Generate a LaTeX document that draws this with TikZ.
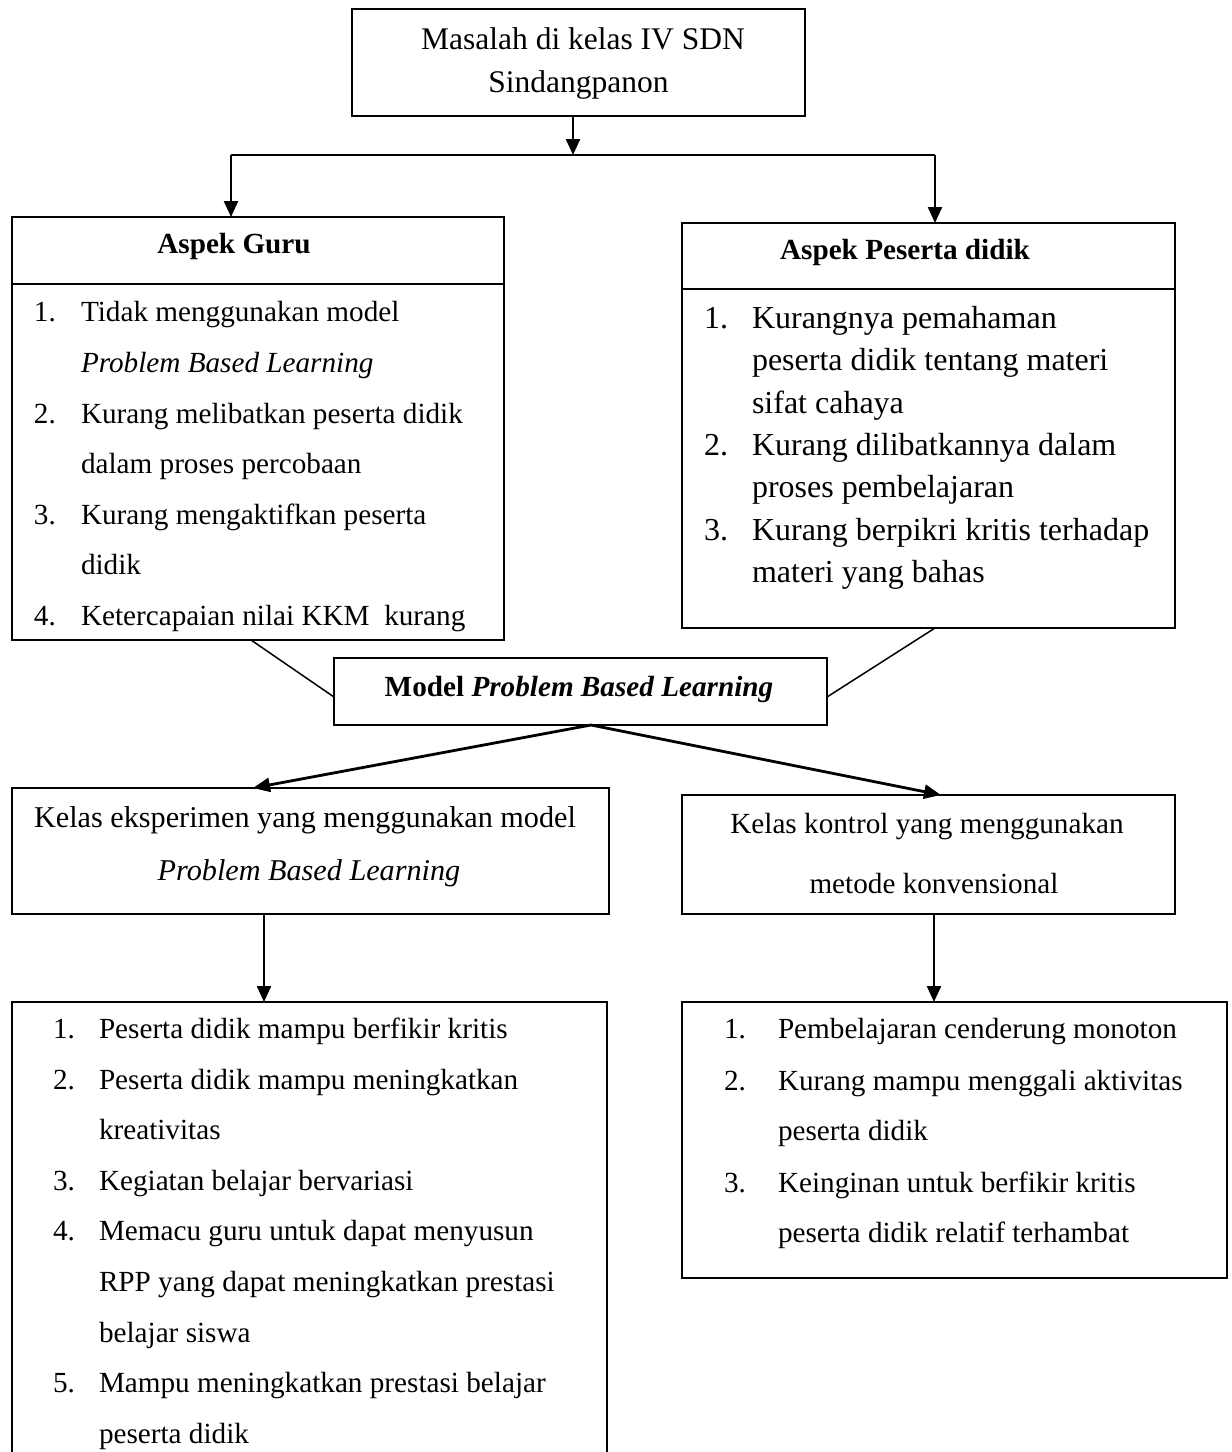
\documentclass[tikz,border=0pt]{standalone}
\usepackage{fontspec}
\setmainfont{Liberation Serif}
\usetikzlibrary{arrows.meta,calc}
\tikzset{
  box/.style={draw, line width=2.1pt, inner sep=0pt, outer sep=0pt, anchor=north west},
  ghost/.style={inner sep=0pt, outer sep=0pt, anchor=north west},
  lbl/.style={inner sep=0pt, outer sep=0pt},
  arr/.style={line width=2.3pt, -{Triangle[length=16pt,width=14pt]}},
  arrB/.style={line width=2.8pt, -{Triangle[length=17pt,width=14pt]}},
  plain/.style={line width=2.3pt},
  thinl/.style={line width=1.5pt},
  fA/.style={font=\fontsize{29.2}{35}\selectfont},
  fB/.style={font=\fontsize{32}{38}\selectfont},
  fT/.style={font=\fontsize{31.5}{38}\selectfont},
  fE/.style={font=\fontsize{30.2}{36}\selectfont},
}
\begin{document}
\begin{tikzpicture}[x=1pt,y=-1pt]
\useasboundingbox (0,0) rectangle (1232,1452);

% boxes
\node[box, minimum width=453pt, minimum height=107pt] (top) at (352,9) {};
\node[box, minimum width=492pt, minimum height=423pt] (guru) at (12,217) {};
\node[box, minimum width=493pt, minimum height=405pt] (siswa) at (682,223) {};
\node[box, minimum width=493pt, minimum height=67pt] (model) at (334,658) {};
\node[box, minimum width=597pt, minimum height=126pt] (eks) at (12,788) {};
\node[box, minimum width=493pt, minimum height=119pt] (kon) at (682,795) {};
\node[ghost, minimum width=595pt, minimum height=470pt] (hasilA) at (12,1002) {};
\node[box, minimum width=545pt, minimum height=276pt] (hasilB) at (682,1002) {};
\draw[line width=2.1pt] (hasilA.south west) -- (hasilA.north west) -- (hasilA.north east) -- (hasilA.south east);

% header dividers
\draw[line width=2.1pt] ($(guru.north west)+(0,67)$) -- ($(guru.north east)+(0,67)$);
\draw[line width=2.1pt] ($(siswa.north west)+(0,66)$) -- ($(siswa.north east)+(0,66)$);

% texts
\node[lbl, fT, anchor=base] (t1) at (583,49) {Masalah di kelas IV SDN};
\node[lbl, fT, anchor=base] (t2) at (578.5,92) {Sindangpanon};
\node[lbl, fA, anchor=base] (hg) at (234,253) {\textbf{Aspek Guru}};
\node[lbl, fA, anchor=base] (hs) at (905,259) {\textbf{Aspek Peserta didik}};
\node[lbl, fA, anchor=base] (mt) at (579,696) {\textbf{Model \textit{Problem Based Learning}}};
\node[lbl, fE, anchor=base] (e1) at (305,827) {Kelas eksperimen yang menggunakan model};
\node[lbl, fE, anchor=base] (e2) at (309,880) {\textit{Problem Based Learning}};
\node[lbl, fA, anchor=base] (k1) at (927,833) {Kelas kontrol yang menggunakan};
\node[lbl, fA, anchor=base] (k2) at (934,893) {metode konvensional};

% lists
\foreach \yy/\nn/\txt [count=\i] in {
  321/1./Tidak menggunakan model,
  372//\textit{Problem Based Learning},
  423/2./Kurang melibatkan peserta didik,
  473//dalam proses percobaan,
  524/3./Kurang mengaktifkan peserta,
  574//didik,
  625/4./Ketercapaian nilai KKM\ \ kurang}{
  \node[lbl, fA, anchor=base west] (gn\i) at (34,\yy) {\nn};
  \node[lbl, fA, anchor=base west] (gt\i) at (81,\yy) {\txt};
}
\foreach \yy/\nn/\txt [count=\i] in {
  328/1./Kurangnya pemahaman,
  370//peserta didik tentang materi,
  413//sifat cahaya,
  455/2./Kurang dilibatkannya dalam,
  497//proses pembelajaran,
  540/3./Kurang berpikri kritis terhadap,
  582//materi yang bahas}{
  \node[lbl, fB, anchor=base west] (sn\i) at (704,\yy) {\nn};
  \node[lbl, fB, anchor=base west] (st\i) at (752,\yy) {\txt};
}
\foreach \yy/\nn/\txt [count=\i] in {
  1038/1./Peserta didik mampu berfikir kritis,
  1089/2./Peserta didik mampu meningkatkan,
  1139//kreativitas,
  1190/3./Kegiatan belajar bervariasi,
  1240/4./Memacu guru untuk dapat menyusun,
  1291//RPP yang dapat meningkatkan prestasi,
  1342//belajar siswa,
  1392/5./Mampu meningkatkan prestasi belajar,
  1443//peserta didik}{
  \node[lbl, fA, anchor=base west] (an\i) at (53,\yy) {\nn};
  \node[lbl, fA, anchor=base west] (at\i) at (99,\yy) {\txt};
}
\foreach \yy/\nn/\txt [count=\i] in {
  1038/1./Pembelajaran cenderung monoton,
  1090/2./Kurang mampu menggali aktivitas,
  1140//peserta didik,
  1192/3./Keinginan untuk berfikir kritis,
  1242//peserta didik relatif terhambat}{
  \node[lbl, fA, anchor=base west] (bn\i) at (724,\yy) {\nn};
  \node[lbl, fA, anchor=base west] (bt\i) at (778,\yy) {\txt};
}

% connectors
\coordinate (junc) at (573,155);
\coordinate (jl) at (231,155);
\coordinate (jr) at (935,155);
\draw[arr] (top.south -| junc) -- (junc);
\draw[plain] (jl) -- (jr);
\draw[arr] (jl) -- (guru.north -| jl);
\draw[arr] (jr) -- (siswa.north -| jr);

\draw[thinl] ($(guru.south)+(-7,0)$) -- ($(model.west)+(0,5.5)$);
\draw[thinl] ($(siswa.south)+(6.5,0)$) -- ($(model.east)+(0,5.5)$);

\draw[arrB] ($(model.south)+(10.5,0)$) -- ($(eks.north)+(-57.5,0)$);
\draw[arrB] ($(model.south)+(10.5,0)$) -- ($(kon.north)+(12.5,0)$);

\coordinate (ea) at ($(eks.south)+(-46.5,0)$);
\coordinate (ka) at ($(kon.south)+(5.5,0)$);
\draw[arr] (ea) -- (ea |- hasilA.north);
\draw[arr] (ka) -- (ka |- hasilB.north);
\end{tikzpicture}
\end{document}
